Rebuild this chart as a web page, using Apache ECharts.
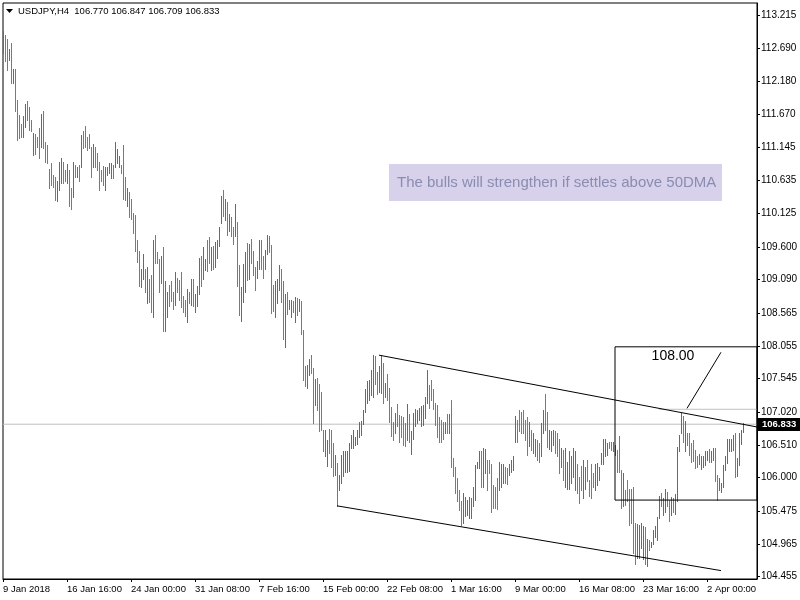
<!DOCTYPE html>
<html><head><meta charset="utf-8">
<script src="https://cdn.jsdelivr.net/npm/echarts@6/dist/echarts.min.js"></script>
<style>html,body{margin:0;padding:0;background:#fff}#c{width:800px;height:600px}</style>
</head><body><div id="c"></div>
<script>
// ---- DATA (H4 bars: high, low, direction 1=up 0=down) ----
const highs = [
112.96,112.90,112.84,112.68,112.78,112.38,112.38,111.89,111.66,111.52,111.64,111.83,111.88,111.78,111.57,111.37,111.36,111.32,111.45,111.67,
111.71,111.24,111.19,110.81,110.90,110.72,110.69,110.62,110.93,110.98,110.93,110.80,110.89,110.79,110.51,110.93,110.88,110.85,110.88,111.34,
111.40,111.48,111.31,111.36,111.15,111.20,111.15,111.07,110.93,110.79,110.86,110.85,110.84,110.91,110.90,110.88,111.24,111.12,111.01,110.88,
111.19,110.69,110.51,110.46,110.35,110.13,110.10,109.70,109.53,109.25,109.49,109.25,109.29,109.10,109.16,109.71,109.78,109.52,109.41,109.45,
109.60,109.07,108.90,109.00,109.07,108.90,109.21,109.12,109.08,109.21,108.83,108.77,108.94,108.90,109.10,109.10,108.87,108.99,109.42,109.46,
109.60,109.41,109.70,109.76,109.60,109.62,109.68,109.71,109.91,110.39,110.49,110.35,110.30,110.11,110.07,109.91,110.27,109.98,109.32,108.98,
109.33,109.52,109.66,109.64,109.72,109.53,109.28,109.38,109.70,109.71,109.45,109.55,109.78,109.77,109.63,109.00,109.07,109.10,109.32,109.25,
109.06,108.87,108.90,108.77,108.77,108.76,108.81,108.80,108.79,108.76,108.31,107.74,107.76,107.85,107.91,107.71,107.54,107.56,107.46,107.34,
106.75,106.75,106.58,106.76,106.75,106.54,106.36,106.23,106.04,106.36,106.41,106.42,106.41,106.54,106.67,106.74,106.64,106.74,106.87,106.89,
107.06,107.38,107.50,107.52,107.68,107.91,107.89,107.64,107.74,107.91,107.78,107.48,107.62,107.40,107.10,106.87,107.01,107.15,106.98,106.96,
106.95,106.85,107.15,106.99,106.72,107.01,107.07,107.06,107.08,107.11,107.13,107.26,107.68,107.45,107.53,107.38,107.16,107.13,106.95,106.90,
106.87,106.87,107.00,106.99,107.21,106.30,106.17,105.99,105.81,105.63,105.76,105.70,105.65,105.70,105.68,105.86,106.20,106.25,106.42,106.41,
106.46,106.44,106.28,106.28,106.21,105.89,105.86,105.99,106.25,106.22,106.22,106.16,106.15,106.22,106.28,106.33,106.96,106.90,107.06,107.03,
107.05,106.90,106.95,106.87,106.75,106.69,106.61,106.59,106.54,106.85,107.06,107.31,107.03,106.75,106.73,106.74,106.72,106.70,106.60,106.46,
106.43,106.46,106.25,106.42,106.33,106.46,106.42,106.22,106.01,106.18,106.27,106.16,106.27,105.96,106.21,106.07,106.21,106.23,106.17,106.38,
106.61,106.61,106.54,106.56,106.56,106.55,106.51,106.43,106.65,106.12,106.07,105.81,105.97,105.82,105.82,105.86,105.29,105.28,105.26,105.29,
105.24,105.23,105.05,105.02,105.00,105.18,105.24,105.39,105.71,105.76,105.69,105.83,105.78,105.65,105.70,105.68,105.75,106.48,106.67,107.01,
106.96,106.89,106.70,106.69,106.54,106.58,106.43,106.34,106.37,106.33,106.33,106.42,106.42,106.44,106.42,106.46,106.46,106.04,105.99,105.92,
106.20,106.33,106.60,106.61,106.60,106.67,106.70,106.30,106.69,106.74,106.847
];
const lows = [
112.63,112.49,112.36,112.51,112.16,112.16,111.71,111.27,111.29,111.31,111.32,111.47,111.57,111.42,111.40,111.03,111.05,111.16,110.98,111.16,
111.14,110.93,110.90,110.51,110.56,110.54,110.33,110.32,110.48,110.59,110.59,110.62,110.59,110.24,110.19,110.38,110.69,110.69,110.62,110.85,
111.14,111.16,111.11,111.14,110.69,110.85,110.85,110.80,110.49,110.62,110.56,110.49,110.72,110.75,110.67,110.67,110.85,110.90,110.85,110.75,
110.34,110.33,110.24,110.07,110.04,109.81,109.54,109.37,108.99,108.97,109.10,108.90,108.73,108.74,108.59,108.50,109.34,109.34,108.90,109.03,
108.28,108.28,108.51,108.67,108.76,108.63,108.69,108.89,108.77,108.66,108.59,108.52,108.42,108.72,108.69,108.68,108.59,108.68,108.86,108.99,
109.09,109.24,109.23,109.35,109.24,109.25,109.28,109.43,109.61,109.97,110.08,110.01,109.78,109.84,109.77,109.65,109.77,108.99,108.54,108.45,
108.74,108.89,109.08,109.09,109.35,109.16,108.92,109.12,109.26,109.25,109.12,109.25,109.48,109.52,108.57,108.60,108.50,108.73,108.92,108.74,
108.16,108.04,108.55,108.63,108.51,108.59,108.43,108.54,108.60,108.24,107.52,107.43,107.40,107.60,107.63,106.85,107.13,107.05,106.72,106.74,
106.42,106.34,106.18,106.39,106.17,106.03,106.04,105.55,105.81,105.92,106.03,106.09,106.09,106.10,106.46,106.46,106.51,106.53,106.64,106.67,
106.84,107.03,107.16,107.21,107.29,107.26,107.46,107.31,107.34,107.32,107.16,107.26,107.21,106.87,106.65,106.59,106.69,106.81,106.56,106.64,
106.51,106.49,106.59,106.56,106.37,106.61,106.81,106.85,106.90,106.81,106.82,106.93,107.16,107.08,107.21,107.07,106.82,106.64,106.56,106.56,
106.61,106.69,106.69,106.69,106.17,106.02,105.76,105.63,105.50,105.26,105.29,105.40,105.42,105.37,105.37,105.55,105.65,106.15,106.15,105.86,
105.86,106.07,105.81,106.07,105.47,105.52,105.52,105.51,105.81,105.86,105.91,105.91,105.90,106.04,106.09,106.12,106.56,106.56,106.72,106.69,
106.69,106.59,106.35,106.49,106.43,106.38,106.33,106.28,106.25,106.33,106.70,106.74,106.48,106.44,106.41,106.51,106.39,106.33,106.07,106.17,
105.97,105.86,105.83,105.82,105.91,106.01,105.81,105.76,105.61,105.81,105.68,105.82,105.95,105.71,105.68,105.86,105.81,105.89,105.96,106.21,
106.22,106.33,106.35,106.46,106.43,106.41,106.35,106.09,106.09,105.52,105.55,105.57,105.63,105.26,105.29,104.82,104.66,104.74,104.74,104.90,
104.73,104.65,104.62,104.87,104.92,104.97,105.08,105.02,105.37,105.56,105.42,105.47,105.56,105.33,105.42,105.47,105.44,105.63,106.41,106.69,
106.56,106.41,106.51,106.35,106.25,106.26,106.15,106.16,106.21,106.13,106.17,106.20,106.28,106.25,106.25,106.28,105.95,105.65,105.81,105.78,
105.86,106.12,106.23,106.41,106.42,106.43,106.01,106.02,106.20,106.53,106.709
];
const dirs = [
1,0,0,1,0,1,0,0,0,0,1,1,0,0,0,1,0,0,0,1,
0,0,0,0,0,0,0,1,1,1,0,0,1,0,0,1,0,1,0,1,
0,0,0,0,0,1,0,0,0,0,0,1,1,1,1,0,1,1,1,0,
0,0,1,0,0,0,0,0,0,1,1,0,1,0,0,1,0,0,0,1,
0,1,1,0,0,0,1,0,0,0,0,0,1,0,1,0,1,1,1,0,
1,1,0,0,1,0,1,1,1,1,0,1,0,1,0,0,1,0,0,1,
1,1,0,1,0,0,0,1,1,0,0,1,1,0,0,0,1,1,1,0,
0,1,0,1,1,0,1,0,1,0,0,0,1,1,0,0,1,0,0,0,
0,1,1,0,0,0,1,0,1,1,1,1,1,1,1,1,1,1,1,1,
1,1,1,1,1,1,0,0,1,1,0,1,0,0,0,0,1,0,0,0,
0,0,1,0,1,1,1,1,1,1,1,1,1,0,0,0,0,0,0,0,
0,1,0,1,0,0,0,0,0,0,1,1,1,1,1,1,1,1,1,0,
1,1,0,0,0,0,0,0,1,1,1,0,0,1,1,1,1,0,0,0,
0,0,0,1,0,1,1,0,0,1,1,0,0,1,1,1,0,0,0,1,
0,1,1,1,1,1,1,0,0,0,1,1,0,0,0,0,1,1,1,1,
1,1,1,0,0,1,1,0,0,0,1,0,0,0,0,0,0,1,1,1,
1,0,1,0,1,1,1,1,1,0,1,1,0,0,1,0,1,1,1,1,
0,1,0,0,0,0,0,0,1,1,1,1,1,0,1,1,0,0,1,1,
1,1,1,1,1,1,0,1,1,1,1
];
const xTickLabels = ["9 Jan 2018","16 Jan 16:00","24 Jan 00:00","31 Jan 08:00","7 Feb 16:00","15 Feb 00:00","22 Feb 08:00","1 Mar 16:00","9 Mar 00:00","16 Mar 08:00","23 Mar 16:00","2 Apr 00:00"];
const xTickEvery = 32;
const totalSlots = 378;
const yTickValues = [113.215,112.690,112.180,111.670,111.145,110.635,110.125,109.600,109.090,108.565,108.055,107.545,107.020,106.510,106.000,105.475,104.965,104.455];
const yMin = 104.419, yMax = 113.402;
const lastPrice = 106.833;
const titleText = "USDJPY,H4  106.770 106.847 106.709 106.833";
const noteText = "The bulls will strengthen if settles above 50DMA";
const boxLabel = "108.00";
const boxLabelAt = [335, 107.90];
const upperTrend = [[188, 107.91], [377, 106.79]];
const lowerTrend = [[167, 105.56], [359, 104.55]];
const boxRange = [306, 377, 108.04, 105.65];
const pointer = [[359, 107.955], [342, 107.08]];
const levelLine = [[328, 107.066], [377, 107.066]];

// ---- CHART ----
const UP = '#2E8B57', DOWN = '#F04E1C';
const FONT = "'Liberation Sans', Arial, sans-serif";
const cats = Array.from({length: totalSlots}, (_, i) => String(i));
const barData = highs.map((h, i) => [i, h, lows[i], dirs[i]]);
const rect = [[boxRange[0], boxRange[2]], [boxRange[1], boxRange[2]], [boxRange[1], boxRange[3]], [boxRange[0], boxRange[3]], [boxRange[0], boxRange[2]]];

function lineSeries(data, color) {
  return {type: 'line', data: data, symbol: 'none', silent: true, animation: false,
    lineStyle: {color: color, width: 1}, z: 3};
}

const chart = echarts.init(document.getElementById('c'), null, {renderer: 'canvas'});
chart.setOption({
  animation: false,
  backgroundColor: '#fff',
  grid: {left: 3, right: 43, top: 3, bottom: 21, show: true, borderColor: '#000', borderWidth: 1,
    containLabel: false, outerBoundsMode: 'none'},
  xAxis: {
    type: 'category', data: cats, boundaryGap: false,
    axisLine: {onZero: false, lineStyle: {color: '#000', width: 1}},
    axisTick: {interval: (i) => i % xTickEvery === 0, length: 3, lineStyle: {color: '#000'}},
    axisLabel: {interval: (i) => i % xTickEvery === 0,
      formatter: (v) => xTickLabels[Number(v) / xTickEvery] || '',
      align: 'left', margin: 5, color: '#000', fontSize: 9.5, fontFamily: FONT},
    splitLine: {show: false}
  },
  yAxis: {
    type: 'value', position: 'right', min: yMin, max: yMax, scale: true,
    axisLine: {show: true, onZero: false, lineStyle: {color: '#000', width: 1}},
    axisTick: {show: true, customValues: yTickValues, length: 3, lineStyle: {color: '#000'}},
    axisLabel: {customValues: yTickValues, formatter: (v) => Number(v).toFixed(3),
      margin: 4, color: '#000', fontSize: 10, fontFamily: FONT},
    splitLine: {show: false}
  },
  series: [
    lineSeries([[0, lastPrice], [totalSlots - 1, lastPrice]], '#C0C0C0'),
    lineSeries(levelLine, '#C0C0C0'),
    {
      type: 'custom', data: barData, encode: {x: 0, y: [1, 2]}, silent: true, z: 4,
      renderItem: function (params, api) {
        const i = api.value(0);
        const p1 = api.coord([i, api.value(1)]);
        const p2 = api.coord([i, api.value(2)]);
        const x = Math.round(p1[0]) + 0.5;
        return {type: 'line',
          shape: {x1: x, y1: Math.round(p1[1]), x2: x, y2: Math.round(p2[1]) + 1},
          style: {stroke: api.value(3) ? UP : DOWN, lineWidth: 1}};
      }
    },
    Object.assign(lineSeries(upperTrend, '#000'), {z: 5}),
    Object.assign(lineSeries(lowerTrend, '#000'), {z: 5}),
    Object.assign(lineSeries(rect, '#000'), {z: 5}),
    Object.assign(lineSeries(pointer, '#000'), {z: 5})
  ]
});

const yLast = chart.convertToPixel({yAxisIndex: 0}, lastPrice);
const lbl = chart.convertToPixel({xAxisIndex: 0, yAxisIndex: 0}, boxLabelAt);
chart.setOption({
  graphic: [
    {type: 'polygon', shape: {points: [[6, 9], [13, 9], [9.5, 13]]}, style: {fill: '#000'}},
    {type: 'text', x: 18, y: 11, style: {text: titleText, fill: '#000', font: '9.5px ' + FONT, textVerticalAlign: 'middle'}},
    {type: 'rect', shape: {x: 389, y: 164, width: 333, height: 37}, style: {fill: '#D7D1EC'}, z: 10},
    {type: 'text', x: 397, y: 182.5, style: {text: noteText, fill: '#8A8DAF', font: '15px ' + FONT, textVerticalAlign: 'middle'}, z: 11},
    {type: 'text', x: lbl[0], y: lbl[1], style: {text: boxLabel, fill: '#000', font: '14px ' + FONT, textAlign: 'center', textVerticalAlign: 'middle'}, z: 11},
    {type: 'rect', shape: {x: 757, y: Math.round(yLast) - 6, width: 43, height: 13}, style: {fill: '#000'}, z: 10},
    {type: 'text', x: 762, y: Math.round(yLast) + 0.5, style: {text: lastPrice.toFixed(3), fill: '#fff', font: 'bold 9.5px ' + FONT, textVerticalAlign: 'middle'}, z: 11}
  ]
});
</script>
</body></html>
